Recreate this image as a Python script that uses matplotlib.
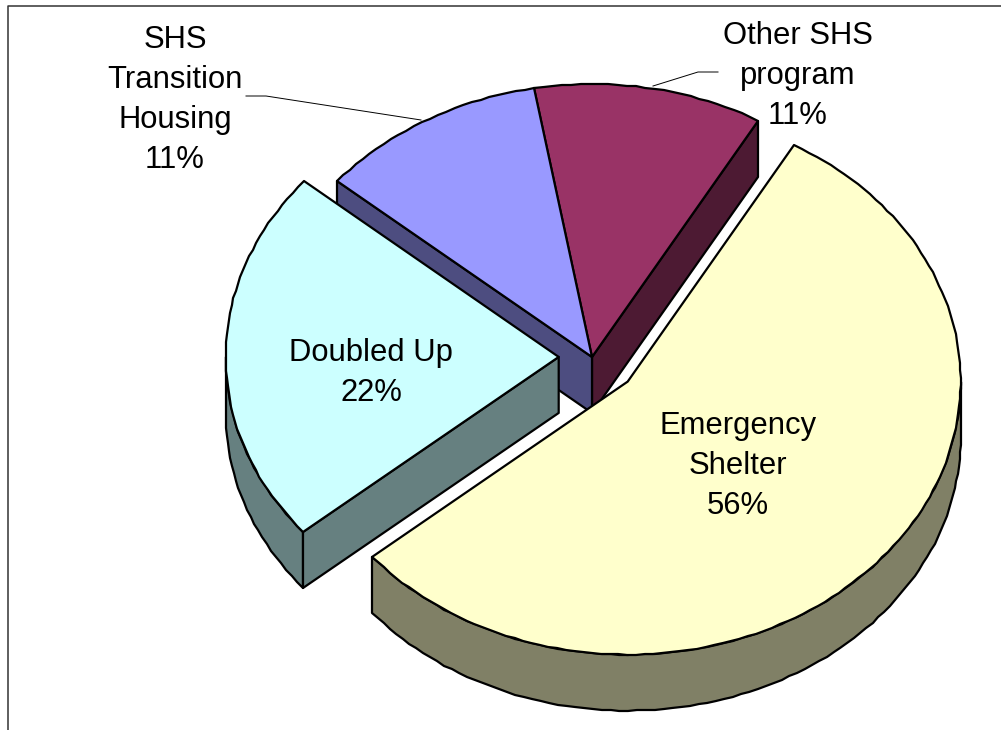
import numpy as np
import matplotlib
matplotlib.use('Agg')
import matplotlib.pyplot as plt
from matplotlib.patches import Polygon

plt.rcParams['font.family'] = ['Liberation Sans', 'DejaVu Sans']

# data, clockwise from the start angle
names = ['Emergency\nShelter', 'Doubled Up', 'SHS\nTransition\nHousing', 'Other SHS\nprogram']
shares = [55.6, 22.2, 11.1, 11.1]
explode = [0.14, 0.10, 0, 0]
top_colors = ['#ffffcc', '#ccffff', '#9999ff', '#993366']
side_colors = ['#808066', '#668080', '#4d4d80', '#4d1a33']
label_pos = [(738, 466), (371, 373), (175, 100), (798, 76)]

start_angle = 30
cx, cy = 592, 357
rx, ry = 333, 273
depth = 56
edge = dict(edgecolor='black', linewidth=1.6, joinstyle='round')

fig = plt.figure(figsize=(10.01, 7.30), dpi=100)
ax = fig.add_axes([0, 0, 1, 1])
ax.set_xlim(0, 1001)
ax.set_ylim(730, 0)
ax.axis('off')

# chart frame
ax.plot([8, 8, 1001], [730, 6, 6], color='#333333', lw=1.1)


def rim(a0, a1, x0, y0):
    # coarse steps and whole pixels, the original outline is a rough polyline
    t = np.radians(np.linspace(a0, a1, max(int(abs(a1 - a0) / 1.5), 2)))
    return np.round(np.column_stack([x0 + rx * np.sin(t), y0 - ry * np.cos(t)]))


def draw_slice(i, a0, a1):
    mid = np.radians((a0 + a1) / 2)
    x0 = cx + explode[i] * rx * np.sin(mid)
    y0 = cy - explode[i] * ry * np.cos(mid)
    down = np.array([0, depth])

    # the part of the rim that faces the viewer
    lo, hi = max(a0, 90), min(a1, 270)
    if lo < hi:
        pts = rim(lo, hi, x0, y0)
        ax.add_patch(Polygon(np.vstack([pts, pts[::-1] + down]), facecolor=side_colors[i], **edge))

    # cut faces, only if they look towards the viewer
    for ang, visible in ((a0, np.sin(np.radians(a0)) < 0), (a1, np.sin(np.radians(a1)) > 0)):
        if visible:
            p = rim(ang, ang + 1, x0, y0)[0]
            c = np.array([x0, y0])
            ax.add_patch(Polygon([c, p, p + down, c + down], facecolor=side_colors[i], **edge))

    top = np.vstack([[x0, y0], rim(a0, a1, x0, y0)])
    ax.add_patch(Polygon(top, facecolor=top_colors[i], **edge))


bounds = start_angle + np.cumsum([0] + shares) / sum(shares) * 360
for i in [3, 2, 1, 0]:
    draw_slice(i, bounds[i], bounds[i + 1])

# leader lines
ax.plot([246, 266, 421], [96, 96, 120], color='black', lw=0.7)
ax.plot([718, 698, 653], [72, 72, 86], color='black', lw=0.7)

for name, share, (x, y) in zip(names, shares, label_pos):
    ax.text(x, y, f'{name}\n{round(share)}%', ha='center', va='center',
            fontsize=22.3, color='black', linespacing=1.435)

fig.savefig('out.png', dpi=100)
